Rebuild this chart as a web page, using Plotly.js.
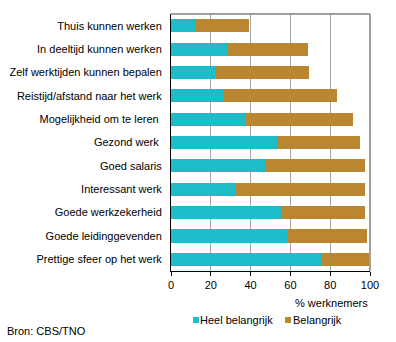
<!DOCTYPE html>
<html><head><meta charset="utf-8">
<script src="https://cdn.plot.ly/plotly-3.0.1.min.js"></script>
<style>html,body{margin:0;padding:0;background:#fff}#chart{width:396px;height:342px}</style>
</head><body><div id="chart"></div>
<script>
const categories = [
  "Thuis kunnen werken",
  "In deeltijd kunnen werken",
  "Zelf werktijden kunnen bepalen",
  "Reistijd/afstand naar het werk",
  "Mogelijkheid om te leren ",
  "Gezond werk ",
  "Goed salaris",
  "Interessant werk",
  "Goede werkzekerheid",
  "Goede leidinggevenden",
  "Prettige sfeer op het werk"
];
const heelBelangrijk = [12, 28, 22.5, 26.5, 37.5, 53.5, 47.7, 32.7, 55.2, 58.5, 75.3];
const belangrijk     = [27, 41, 47, 57, 53.8, 41.3, 49.6, 64.6, 42.1, 39.8, 24];
const seriesNames = ["Heel belangrijk", "Belangrijk"];
const xTicks = [0, 20, 40, 60, 80, 100];
const colors = ["#1EBCC8", "#BA8630"];
const fontFam = "Liberation Sans, Arial, sans-serif";

const traces = [
  {type:"bar", orientation:"h", y:categories, x:heelBelangrijk, name:seriesNames[0],
   marker:{color:colors[0], line:{width:0}}, hoverinfo:"none"},
  {type:"bar", orientation:"h", y:categories, x:belangrijk, name:seriesNames[1],
   marker:{color:colors[1], line:{width:0}}, hoverinfo:"none"}
];

const layout = {
  width:396, height:342,
  margin:{l:171, r:26, t:14, b:71},
  barmode:"stack", bargap:0.44,
  showlegend:false,
  paper_bgcolor:"#fff", plot_bgcolor:"#fff",
  font:{family:fontFam, size:11, color:"#000"},
  xaxis:{range:[0,100], tickvals:xTicks, ticktext:xTicks.map(String),
    showgrid:true, gridcolor:"#a6a6a6", gridwidth:1,
    showline:true, linecolor:"#000", linewidth:1,
    ticks:"outside", ticklen:4, tickcolor:"#000", tickwidth:1,
    zeroline:false, fixedrange:true},
  yaxis:{autorange:"reversed", showgrid:false, showline:true, linecolor:"#000", linewidth:1,
    ticks:"", ticklabelstandoff:6, zeroline:false, fixedrange:true},
  shapes:[
    {type:"line", xref:"paper", yref:"paper", x0:0, x1:1, y0:1, y1:1, line:{color:"#808080", width:1.5}},
    {type:"line", xref:"paper", yref:"paper", x0:1, x1:1, y0:0, y1:1, line:{color:"#808080", width:1.5}},
    {type:"rect", xref:"paper", yref:"paper", x0:(193-171)/199, x1:(199-171)/199, y0:-(317-271)/257, y1:-(323-271)/257,
      fillcolor:colors[0], line:{width:0}},
    {type:"rect", xref:"paper", yref:"paper", x0:(285-171)/199, x1:(291-171)/199, y0:-(317-271)/257, y1:-(323-271)/257,
      fillcolor:colors[1], line:{width:0}}
  ],
  annotations:[
    {text:"% werknemers", xref:"paper", yref:"paper", x:1, y:-(303-271)/257, xanchor:"right", yanchor:"middle", showarrow:false, font:{size:11}},
    {text:seriesNames[0], xref:"paper", yref:"paper", x:(200-171)/199, y:-(320-271)/257, xanchor:"left", yanchor:"middle", showarrow:false, font:{size:11}, xshift:-2},
    {text:seriesNames[1], xref:"paper", yref:"paper", x:(293-171)/199, y:-(320-271)/257, xanchor:"left", yanchor:"middle", showarrow:false, font:{size:11}, xshift:-2},
    {text:"Bron: CBS/TNO", xref:"paper", yref:"paper", x:-(171-5)/199, y:-(331-271)/257, xanchor:"left", yanchor:"middle", showarrow:false, font:{size:11}}
  ]
};
Plotly.newPlot("chart", traces, layout, {displayModeBar:false, staticPlot:true});
</script></body></html>
